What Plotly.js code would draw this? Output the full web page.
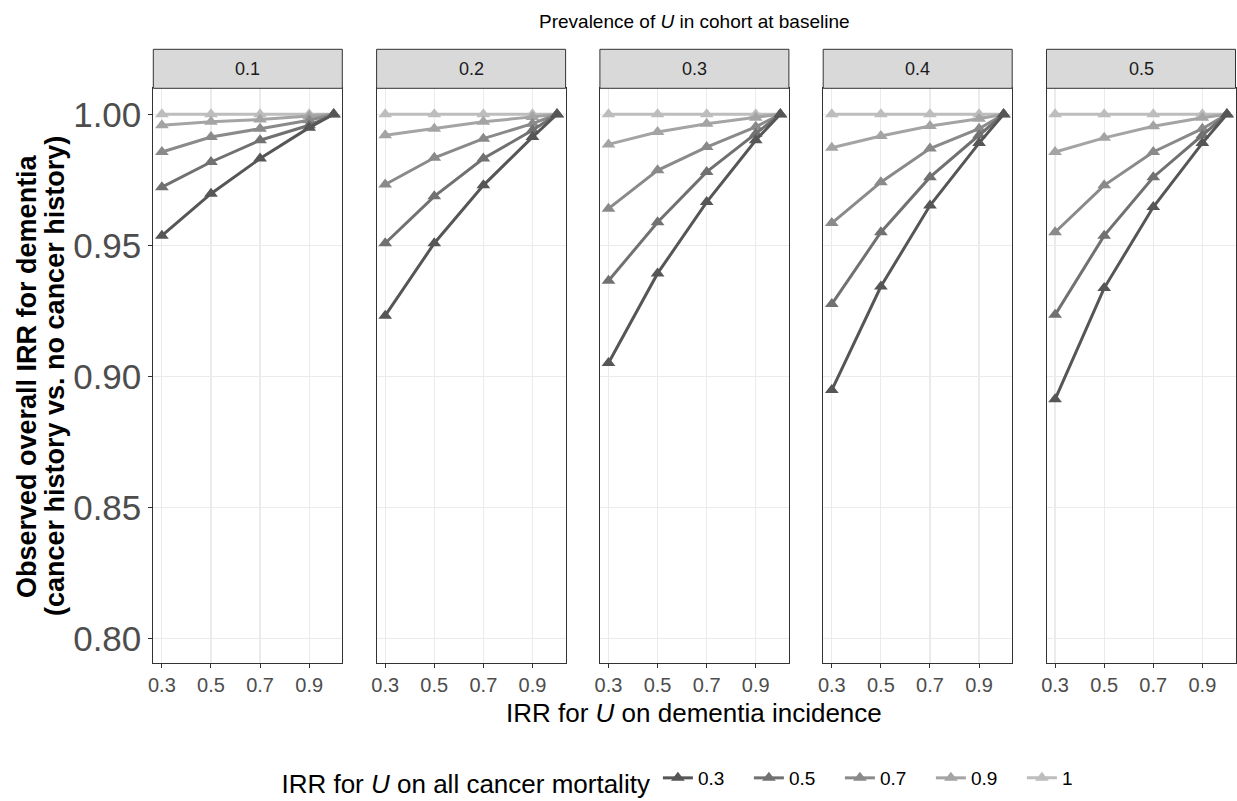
<!DOCTYPE html>
<html>
<head>
<meta charset="utf-8">
<script src="https://cdn.plot.ly/plotly-3.0.1.min.js"></script>
<style>html,body{margin:0;padding:0;background:#fff;}#chart{width:1237px;height:801px;}</style>
</head>
<body>
<div id="chart"></div>
<script>
// ---- data ----
const prevalence = ["0.1", "0.2", "0.3", "0.4", "0.5"];           // facet panels
const mortalityIRR = ["0.3", "0.5", "0.7", "0.9", "1"];          // colour groups
const dementiaIRR = [0.3, 0.5, 0.7, 0.9, 1.0];                   // x values
const xTickVals = [0.3, 0.5, 0.7, 0.9];
const xTickText = ["0.3", "0.5", "0.7", "0.9"];
const yTickVals = [0.80, 0.85, 0.90, 0.95, 1.00];
const yTickText = ["0.80", "0.85", "0.90", "0.95", "1.00"];

// observed IRR per panel, one row per mortality IRR (0.3, 0.5, 0.7, 0.9, 1)
const obs_prev_0_1 = [
  [0.9537, 0.9697, 0.9831, 0.9949, 1.0],
  [0.9722, 0.9818, 0.9901, 0.9958, 1.0],
  [0.9856, 0.9913, 0.9945, 0.9977, 1.0],
  [0.9958, 0.9971, 0.9980, 0.9992, 1.0],
  [1.0, 1.0, 1.0, 1.0, 1.0]
];
const obs_prev_0_2 = [
  [0.9232, 0.9508, 0.9729, 0.9913, 1.0],
  [0.9508, 0.9687, 0.9831, 0.9939, 1.0],
  [0.9732, 0.9834, 0.9907, 0.9964, 1.0],
  [0.9920, 0.9945, 0.9971, 0.9990, 1.0],
  [1.0, 1.0, 1.0, 1.0, 1.0]
];
const obs_prev_0_3 = [
  [0.9051, 0.9393, 0.9665, 0.9901, 1.0],
  [0.9365, 0.9588, 0.9780, 0.9926, 1.0],
  [0.9640, 0.9786, 0.9875, 0.9952, 1.0],
  [0.9885, 0.9932, 0.9964, 0.9987, 1.0],
  [1.0, 1.0, 1.0, 1.0, 1.0]
];
const obs_prev_0_4 = [
  [0.8948, 0.9343, 0.9652, 0.9890, 1.0],
  [0.9276, 0.9550, 0.9760, 0.9920, 1.0],
  [0.9585, 0.9741, 0.9869, 0.9945, 1.0],
  [0.9872, 0.9917, 0.9955, 0.9983, 1.0],
  [1.0, 1.0, 1.0, 1.0, 1.0]
];
const obs_prev_0_5 = [
  [0.8913, 0.9337, 0.9646, 0.9890, 1.0],
  [0.9235, 0.9537, 0.9760, 0.9920, 1.0],
  [0.9550, 0.9729, 0.9856, 0.9945, 1.0],
  [0.9856, 0.9910, 0.9954, 0.9987, 1.0],
  [1.0, 1.0, 1.0, 1.0, 1.0]
];
const panels = [obs_prev_0_1, obs_prev_0_2, obs_prev_0_3, obs_prev_0_4, obs_prev_0_5];

// ---- styling ----
const colors = ["#565656", "#717171", "#8a8a8a", "#a4a4a4", "#bdbdbd"];
const FONT = "Liberation Sans, Arial, sans-serif";
const W = 1237, H = 801;
const panelLeft0 = 153.3, panelStep = 223.3, panelW = 189;
const plotTop = 88.3, plotBottom = 663.3, stripTop = 49.3;

const traces = [];
const layout = {
  width: W, height: H,
  margin: {l: 0, r: 0, t: 0, b: 0, autoexpand: false},
  paper_bgcolor: "#ffffff",
  plot_bgcolor: "#ffffff",
  font: {family: FONT, color: "#000"},
  showlegend: true,
  legend: {
    orientation: "h",
    x: 0.563, xanchor: "center",
    y: 1 - 781 / H, yanchor: "middle",
    title: {text: "IRR for <i>U</i> on all cancer mortality", side: "left", font: {size: 26, family: FONT, color: "#000"}},
    font: {size: 19, family: FONT, color: "#000"},
    entrywidth: 46,
    traceorder: "normal",
    bgcolor: "rgba(0,0,0,0)"
  },
  shapes: [],
  annotations: []
};

const yDomain = [1 - plotBottom / H, 1 - plotTop / H];

for (let p = 0; p < panels.length; p++) {
  const ax = p === 0 ? "" : String(p + 1);
  const left = panelLeft0 + p * panelStep;
  const dom = [left / W, (left + panelW) / W];
  layout["xaxis" + ax] = {
    domain: dom, anchor: "y" + ax,
    range: [0.265, 1.035],
    tickvals: xTickVals, ticktext: xTickText,
    ticks: "outside", ticklen: 4, tickcolor: "#333333", tickwidth: 1,
    tickfont: {size: 20, color: "#4d4d4d", family: FONT},
    showgrid: true, gridcolor: "#ebebeb", gridwidth: 1.2,
    zeroline: false,
    showline: true, linecolor: "#333333", linewidth: 1, mirror: true,
    fixedrange: true
  };
  layout["yaxis" + ax] = {
    domain: yDomain, anchor: "x" + ax,
    range: [0.7906, 1.0099],
    tickvals: yTickVals, ticktext: yTickText,
    showticklabels: p === 0,
    ticks: p === 0 ? "outside" : "", ticklen: 4, tickcolor: "#333333", tickwidth: 1,
    tickfont: {size: 35, color: "#4d4d4d", family: FONT},
    showgrid: true, gridcolor: "#ebebeb", gridwidth: 1.2,
    zeroline: false,
    showline: true, linecolor: "#333333", linewidth: 1, mirror: true,
    fixedrange: true
  };
  // strip
  layout.shapes.push({
    type: "rect", xref: "paper", yref: "paper",
    x0: dom[0], x1: dom[1], y0: 1 - plotTop / H, y1: 1 - stripTop / H,
    fillcolor: "#d9d9d9", line: {color: "#333333", width: 1}
  });
  layout.annotations.push({
    xref: "paper", yref: "paper",
    x: (dom[0] + dom[1]) / 2, y: 1 - ((plotTop + stripTop) / 2) / H,
    text: prevalence[p], showarrow: false,
    xanchor: "center", yanchor: "middle",
    font: {size: 18, color: "#1a1a1a", family: FONT}
  });
  // traces: lightest first so the darkest ends on top
  for (let s = mortalityIRR.length - 1; s >= 0; s--) {
    traces.push({
      type: "scatter", mode: "lines+markers",
      x: dementiaIRR, y: panels[p][s],
      xaxis: "x" + ax, yaxis: "y" + ax,
      name: mortalityIRR[s],
      legendgroup: mortalityIRR[s],
      legendrank: s + 1,
      showlegend: p === 0,
      line: {color: colors[s], width: 3},
      marker: {symbol: "triangle-up", size: 12, color: colors[s], line: {width: 0}},
      hoverinfo: "skip"
    });
  }
}

const midX = (panelLeft0 + (panelLeft0 + 4 * panelStep + panelW)) / 2 / W;
layout.annotations.push({
  xref: "paper", yref: "paper", x: midX, y: 1 - 22 / H,
  text: "Prevalence of <i>U</i> in cohort at baseline", showarrow: false,
  xanchor: "center", yanchor: "middle",
  font: {size: 19, color: "#000", family: FONT}
});
layout.annotations.push({
  xref: "paper", yref: "paper", x: midX, y: 1 - 713 / H,
  text: "IRR for <i>U</i> on dementia incidence", showarrow: false,
  xanchor: "center", yanchor: "middle",
  font: {size: 26, color: "#000", family: FONT}
});
layout.annotations.push({
  xref: "paper", yref: "paper", x: 27 / W, y: 1 - 376 / H,
  text: "<b>Observed overall IRR for dementia</b>",
  showarrow: false, textangle: -90,
  xanchor: "center", yanchor: "middle",
  font: {size: 27, color: "#000", family: FONT}
});
layout.annotations.push({
  xref: "paper", yref: "paper", x: 55 / W, y: 1 - 376 / H,
  text: "<b>(cancer history vs. no cancer history)</b>",
  showarrow: false, textangle: -90,
  xanchor: "center", yanchor: "middle",
  font: {size: 27, color: "#000", family: FONT}
});

Plotly.newPlot("chart", traces, layout, {staticPlot: true, displayModeBar: false});
</script>
</body>
</html>
